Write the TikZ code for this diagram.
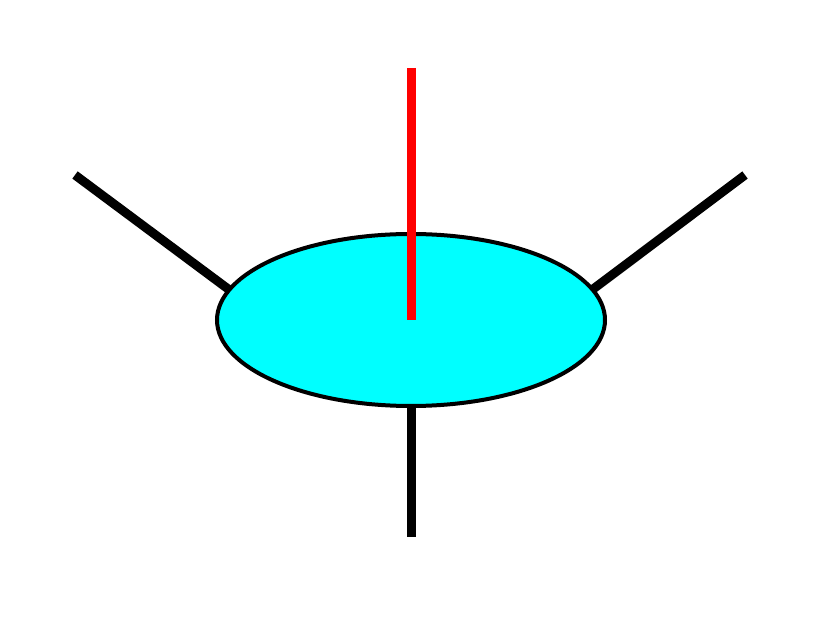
\documentclass[tikz,border=0pt]{standalone}
\definecolor{aqua}{RGB}{0,255,255}
\definecolor{pure red}{RGB}{255,0,0}
\begin{document}
\begin{tikzpicture}[x=1pt,y=-1pt,
  leg/.style={line width=9pt}]
\useasboundingbox (0,0) rectangle (839,617);
\coordinate (c) at (411,320);
\coordinate (lt) at (75,175);
\coordinate (rt) at (745,175);
\coordinate (lb) at (290,335);
\coordinate (rb) at (532,335);
\coordinate (top) at (411,68);
\coordinate (bot) at (411,537);
\draw[leg] (lt) -- (lb);
\draw[leg] (rt) -- (rb);
\draw[leg] (c) -- (bot);
\filldraw[fill=aqua,draw=black,line width=4pt] (c) ellipse [x radius=194, y radius=86];
\draw[leg,pure red] (top) -- (c);
\end{tikzpicture}
\end{document}
